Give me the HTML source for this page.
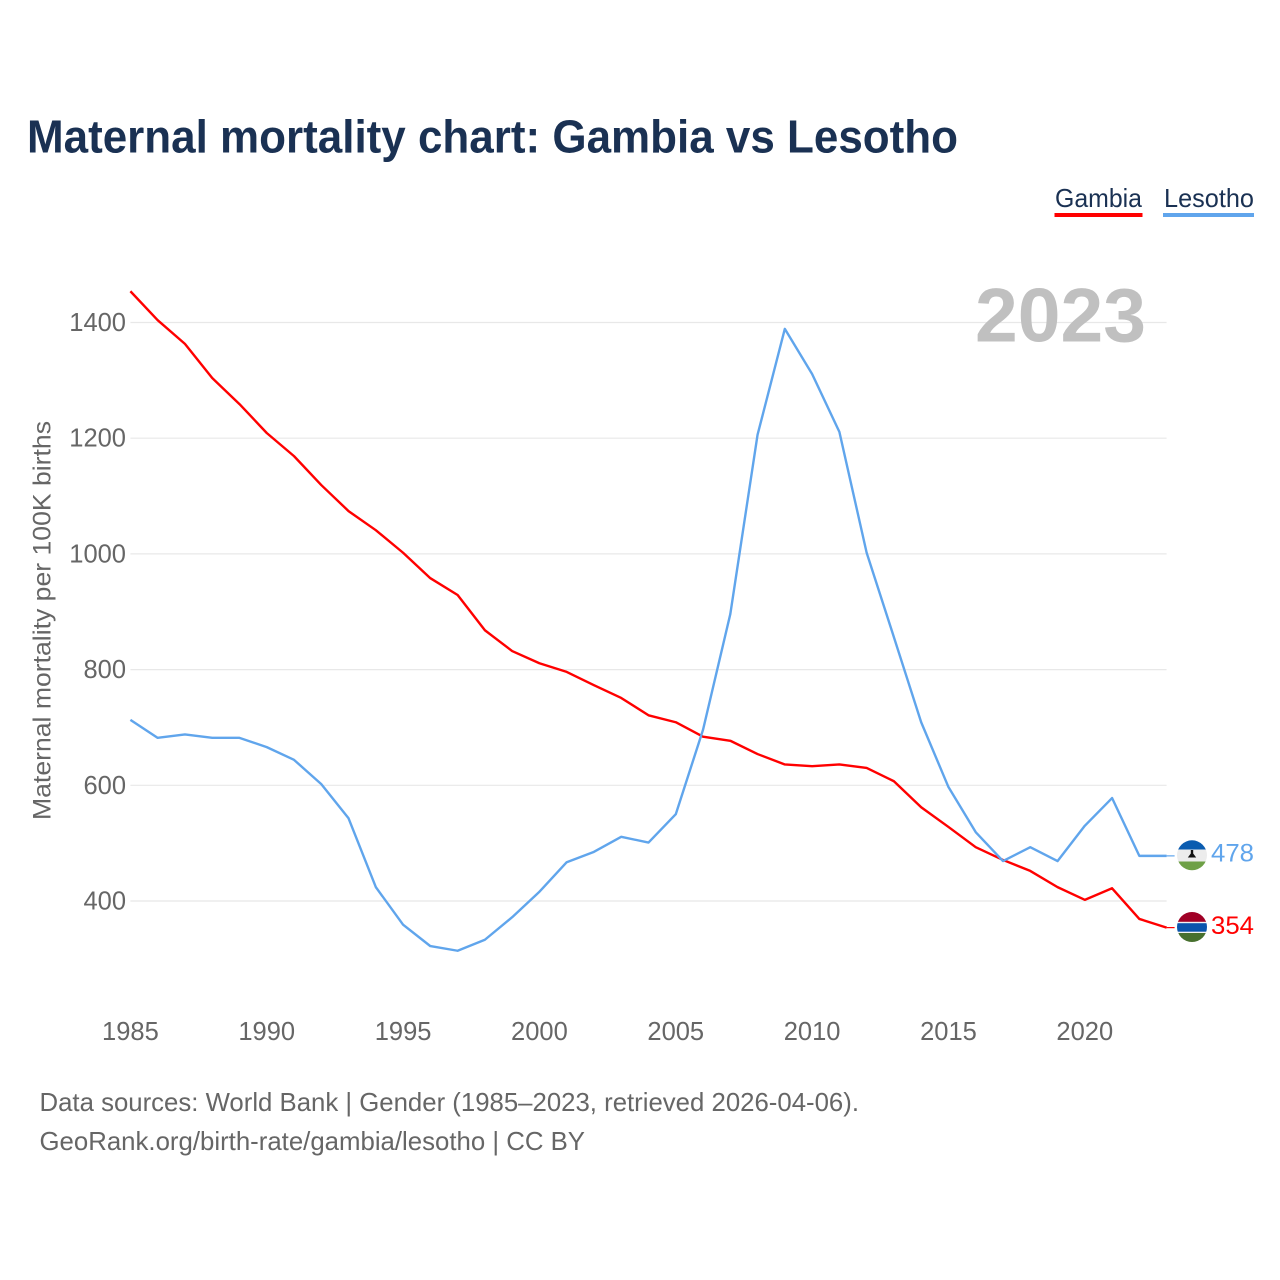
<!DOCTYPE html>
<html lang="en">
<head>
<meta charset="utf-8">
<title>Maternal mortality chart: Gambia vs Lesotho</title>
<style>
html,body{margin:0;padding:0;background:#fff;}
svg{display:block;}
text{font-family:"Liberation Sans",sans-serif;}
</style>
</head>
<body>
<svg id="chart" xmlns="http://www.w3.org/2000/svg" width="1280" height="1280" viewBox="0 0 1280 1280">
  <defs>
    <clipPath id="clip-lesotho"><circle cx="1192" cy="855.3" r="15"/></clipPath>
    <clipPath id="clip-gambia"><circle cx="1192" cy="927" r="15"/></clipPath>
  </defs>
  <rect x="0" y="0" width="1280" height="1280" fill="#ffffff"/>
  <text x="27" y="152.500" font-size="46" font-weight="700" fill="#1a3153" textLength="931" lengthAdjust="spacingAndGlyphs">Maternal mortality chart: Gambia vs Lesotho</text>

  <g>
    <text x="1055" y="207" font-size="26" fill="#1a3153" textLength="87" lengthAdjust="spacingAndGlyphs">Gambia</text>
    <rect x="1054.5" y="213" width="88" height="4" fill="#ff0000"/>
    <text x="1164" y="207" font-size="26" fill="#1a3153" textLength="90" lengthAdjust="spacingAndGlyphs">Lesotho</text>
    <rect x="1163" y="213" width="91" height="4" fill="#60a5ec"/>
  </g>

  <g id="grid"></g>
  <text x="975" y="341.500" font-size="76" font-weight="700" fill="#c0c0c0" textLength="171" lengthAdjust="spacingAndGlyphs">2023</text>
  <g id="y-ticks"></g>
  <g id="x-ticks"></g>
  <text transform="translate(50.5,820) rotate(-90)" x="0" y="0" font-size="25" fill="#666666" textLength="399" lengthAdjust="spacingAndGlyphs">Maternal mortality per 100K births</text>

  <g id="series"></g>

  <g clip-path="url(#clip-lesotho)">
    <rect x="1177" y="840" width="30" height="9.500" fill="#0a5cb0"/>
    <rect x="1177" y="849.500" width="30" height="12" fill="#ececec"/>
    <rect x="1177" y="861.500" width="30" height="9.500" fill="#6ea046"/>
    <path d="M1190.800 850h2.400v3.500l3 4h-8.400l3-4z" fill="#111111"/>
  </g>
  <g clip-path="url(#clip-gambia)">
    <rect x="1177" y="912" width="30" height="30" fill="#f2f2f2"/>
    <rect x="1177" y="912" width="30" height="9.800" fill="#a00026"/>
    <rect x="1177" y="923.200" width="30" height="8.500" fill="#0a54ad"/>
    <rect x="1177" y="933" width="30" height="9" fill="#47702e"/>
  </g>
  <text x="1211" y="861.500" font-size="25" fill="#60a5ec" textLength="43" lengthAdjust="spacingAndGlyphs">478</text>
  <text x="1211" y="933.800" font-size="25" fill="#ff0000" textLength="43" lengthAdjust="spacingAndGlyphs">354</text>

  <text x="39.500" y="1111" font-size="26" fill="#666666" textLength="819.500" lengthAdjust="spacingAndGlyphs">Data sources: World Bank | Gender (1985–2023, retrieved 2026-04-06).</text>
  <text x="39.500" y="1150" font-size="26" fill="#666666" textLength="545.500" lengthAdjust="spacingAndGlyphs">GeoRank.org/birth-rate/gambia/lesotho | CC BY</text>
</svg>
<script>
const years = [1985,1986,1987,1988,1989,1990,1991,1992,1993,1994,1995,1996,1997,1998,1999,2000,2001,2002,2003,2004,2005,2006,2007,2008,2009,2010,2011,2012,2013,2014,2015,2016,2017,2018,2019,2020,2021,2022,2023];
const gambiaValues = [1454,1404,1363,1304,1259,1209,1169,1119,1074,1041,1002,958,929,868,832,811,796,773,751,721,709,684,677,654,636,633,636,630,607,562,528,493,471,452,424,402,422,369,354];
const lesothoValues = [713,682,688,682,682,666,644,602,543,424,359,322,314,333,372,416,467,485,511,501,550,696,896,1206,1389,1311,1211,1002,856,709,597,519,469,493,469,530,578,478,478];
const yTickValues = [400,600,800,1000,1200,1400];
const xTickValues = [1985,1990,1995,2000,2005,2010,2015,2020];

const SVG_NS = 'http://www.w3.org/2000/svg';
function xScale(year){ return 130.4 + (year - 1985) * (1166.6 - 130.4) / (2023 - 1985); }
function yScale(value){ return 901 - (value - 400) * (901 - 322.5) / (1400 - 400); }

const gridGroup = document.getElementById('grid');
const yTickGroup = document.getElementById('y-ticks');
const xTickGroup = document.getElementById('x-ticks');
const seriesGroup = document.getElementById('series');

yTickValues.forEach(function(v){
  const line = document.createElementNS(SVG_NS, 'line');
  
  
  line.setAttribute('x1', xScale(1985));
  line.setAttribute('x2', xScale(2023));
  line.setAttribute('y1', yScale(v));
  line.setAttribute('y2', yScale(v));
  line.setAttribute('stroke', '#e8e8e8');
  line.setAttribute('stroke-width', '1.2');
  gridGroup.appendChild(line);

  const label = document.createElementNS(SVG_NS, 'text');
  
  
  label.setAttribute('x', 126);
  label.setAttribute('y', yScale(v) + 8.5);
  label.setAttribute('text-anchor', 'end');
  label.setAttribute('font-size', '25.5');
  label.setAttribute('fill', '#666666');
  label.textContent = String(v);
  yTickGroup.appendChild(label);
});

xTickValues.forEach(function(t){
  const label = document.createElementNS(SVG_NS, 'text');
  
  
  label.setAttribute('x', xScale(t));
  label.setAttribute('y', 1040);
  label.setAttribute('text-anchor', 'middle');
  label.setAttribute('font-size', '25.5');
  label.setAttribute('fill', '#666666');
  label.textContent = String(t);
  xTickGroup.appendChild(label);
});

function drawSeries(values, color){
  let d = '';
  values.forEach(function(v, i){
    d += (i === 0 ? 'M' : 'L') + xScale(years[i]).toFixed(2) + ' ' + yScale(v).toFixed(2);
  });
  const path = document.createElementNS(SVG_NS, 'path');
  path.setAttribute('d', d);
  path.setAttribute('fill', 'none');
  path.setAttribute('stroke', color);
  path.setAttribute('stroke-width', '2.4');
  path.setAttribute('stroke-linejoin', 'round');
  return path;
}

function drawLeader(values, color){
  const last = values.length - 1;
  const leader = document.createElementNS(SVG_NS, 'line');
  leader.setAttribute('x1', xScale(years[last]));
  leader.setAttribute('x2', xScale(years[last]) + 8);
  leader.setAttribute('y1', yScale(values[last]));
  leader.setAttribute('y2', yScale(values[last]));
  leader.setAttribute('stroke', color);
  leader.setAttribute('stroke-width', '1.2');
  return leader;
}

const gambiaLine = drawSeries(gambiaValues, '#ff0000');


seriesGroup.appendChild(gambiaLine);

const gambiaLeader = drawLeader(gambiaValues, '#ff0000');


seriesGroup.appendChild(gambiaLeader);

const lesothoLine = drawSeries(lesothoValues, '#60a5ec');


seriesGroup.appendChild(lesothoLine);

const lesothoLeader = drawLeader(lesothoValues, '#60a5ec');


seriesGroup.appendChild(lesothoLeader);
</script>
</body>
</html>
